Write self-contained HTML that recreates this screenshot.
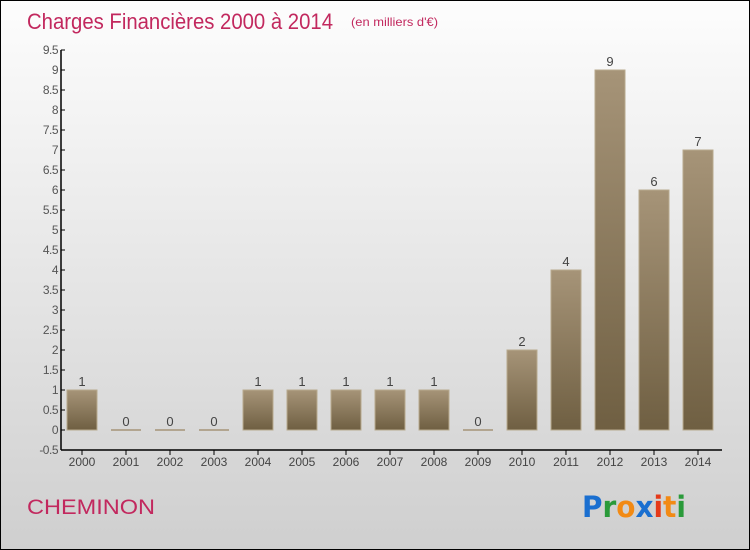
<!DOCTYPE html>
<html><head><meta charset="utf-8"><style>
html,body{margin:0;padding:0}
body{width:750px;height:550px;overflow:hidden;font-family:"Liberation Sans",sans-serif}
#frame{position:absolute;left:0;top:0;width:748px;height:548px;border:1px solid #000;background:linear-gradient(#fdfdfd,#cfcfcf)}
</style></head><body>
<div id="frame"></div>
<svg id="chart" width="750" height="550" style="position:absolute;left:0;top:0">
<defs><linearGradient id="bg" x1="0" y1="0" x2="0" y2="1"><stop offset="0" stop-color="#a69478"/><stop offset="1" stop-color="#6f5f42"/></linearGradient></defs>
<text x="27" y="29" font-size="22" fill="#c2285e" textLength="306" lengthAdjust="spacingAndGlyphs">Charges Financières 2000 à 2014</text>
<text x="351" y="26" font-size="12" fill="#c2285e" textLength="87" lengthAdjust="spacingAndGlyphs">(en milliers d'€)</text>
<text x="27" y="514" font-size="21" fill="#c2285e" textLength="128" lengthAdjust="spacingAndGlyphs">CHEMINON</text>
<text x="582" y="517" font-size="29" font-family="'DejaVu Sans',sans-serif" font-weight="bold" textLength="104" lengthAdjust="spacingAndGlyphs"><tspan fill="#1a6fd0">P</tspan><tspan fill="#2a9a3a">r</tspan><tspan fill="#f28a14">o</tspan><tspan fill="#1a6fd0">x</tspan><tspan fill="#e53a1a">i</tspan><tspan fill="#f28a14">t</tspan><tspan fill="#2a9a3a">i</tspan></text>
<g id="axes"></g><g id="bars"></g>
</svg>
<script>
const years=["2000","2001","2002","2003","2004","2005","2006","2007","2008","2009","2010","2011","2012","2013","2014"];
const values=[1,0,0,0,1,1,1,1,1,0,2,4,9,6,7];
const yTicks=[-0.5,0,0.5,1,1.5,2,2.5,3,3.5,4,4.5,5,5.5,6,6.5,7,7.5,8,8.5,9,9.5];
const NS="http://www.w3.org/2000/svg";
const y=v=>430-v*40, x=i=>82+i*44;
function mk(t,a,p){const e=document.createElementNS(NS,t);for(const k in a)e.setAttribute(k,a[k]);p.appendChild(e);return e;}
const ax=document.getElementById('axes'), bars=document.getElementById('bars');
let l=mk('line',{x1:61,y1:50,x2:61,y2:450,stroke:'#000','stroke-width':1.5},ax);


l=mk('line',{x1:61,y1:450,x2:722,y2:450,stroke:'#000','stroke-width':1.5},ax);


yTicks.forEach(v=>{
  mk('line',{x1:61,y1:y(v),x2:65,y2:y(v),stroke:'#000'},ax);
  const t=mk('text',{x:58,y:y(v)+4,'font-size':12,fill:'#555','text-anchor':'end','letter-spacing':'-0.5'},ax);t.textContent=String(v);
  
  
});
years.forEach((yr,i)=>{
  mk('line',{x1:x(i),y1:450,x2:x(i),y2:455,stroke:'#000'},ax);
  const t=mk('text',{x:x(i),y:466,'font-size':12,fill:'#444','text-anchor':'middle'},ax);t.textContent=yr;
  
  
  const v=values[i];
  const h=Math.max(v*40,1.5);
  const r=mk('rect',{x:x(i)-15,y:y(v)-(v?0:0.75),width:30,height:h,fill:v?'url(#bg)':'#a69478',stroke:v?'#b8aa8e':'none','stroke-width':1},bars);
  
  
  const vl=mk('text',{x:x(i),y:y(v)-4,'font-size':13,fill:'#444','text-anchor':'middle'},bars);vl.textContent=String(v);
  
  
});
</script>
</body></html>
